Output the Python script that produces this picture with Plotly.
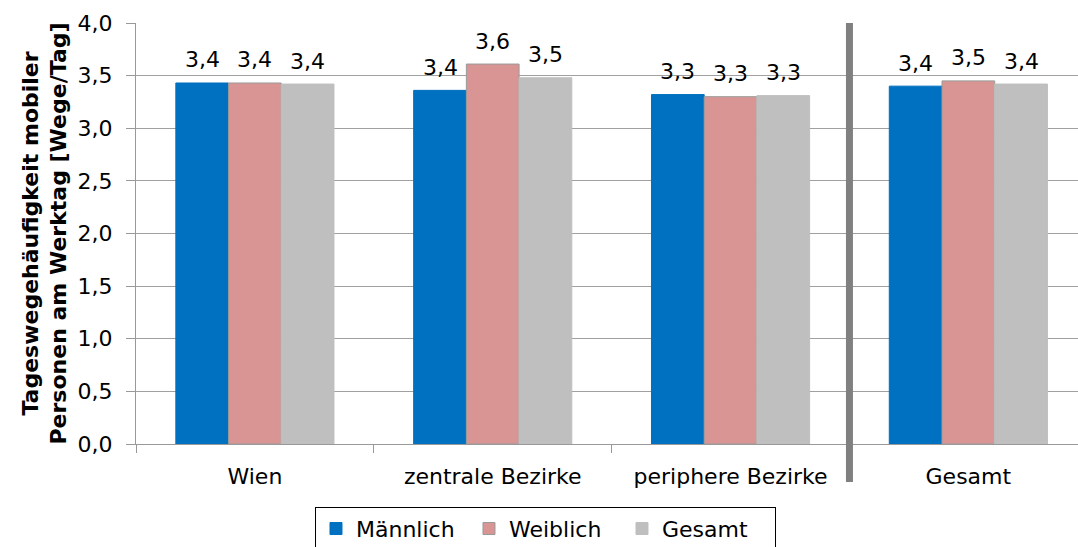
import plotly.graph_objects as go

categories = ["Wien", "zentrale Bezirke", "periphere Bezirke", "Gesamt"]
maennlich = [3.43, 3.36, 3.32, 3.40]
weiblich = [3.43, 3.61, 3.30, 3.45]
gesamt = [3.42, 3.48, 3.31, 3.42]
series_names = ["Männlich", "Weiblich", "Gesamt"]
series_values = [maennlich, weiblich, gesamt]
colors = ["#0070C0", "#D99594", "#BFBFBF"]
outline = ["#0070C0", "#9A9A9A", "#BFBFBF"]
y_ticks = [0, 0.5, 1.0, 1.5, 2.0, 2.5, 3.0, 3.5, 4.0]
y_ticklabels = [f"{v:.1f}".replace(".", ",") for v in y_ticks]

FONT = "DejaVu Sans, Liberation Sans, Arial, sans-serif"
FS = 22
W, H = 1078, 547
ML, MR, MT, MB = 136, 0, 23, 103
XR = [-0.5, 3.461]
BARGAP = 0.335

fig = go.Figure()
for name, vals, col, oc in zip(series_names, series_values, colors, outline):
    fig.add_trace(go.Bar(
        name=name, x=categories, y=vals,
        marker=dict(color=col, line=dict(color=oc, width=1)),
    ))

# value labels above each bar
px_per_cat = (W - ML - MR) / (XR[1] - XR[0])
bar_px = px_per_cat * (1 - BARGAP) / len(series_values)
annotations = []
for i, vals in enumerate(series_values):
    off = (i - (len(series_values) - 1) / 2) * bar_px
    for c, v in zip(categories, vals):
        annotations.append(dict(
            x=c, y=v, xref="x", yref="y", text=f"{v:.1f}".replace(".", ","),
            showarrow=False, xshift=off, yshift=23, yanchor="middle",
            font=dict(family=FONT, size=FS, color="black"),
        ))

fig.update_layout(
    width=W, height=H,
    margin=dict(l=ML, r=MR, t=MT, b=MB, autoexpand=False),
    paper_bgcolor="white", plot_bgcolor="white",
    barmode="group", bargap=BARGAP, bargroupgap=0,
    font=dict(family=FONT, size=FS, color="black"),
    showlegend=True,
    legend=dict(
        orientation="h", x=0.4347, xanchor="center", y=-0.149, yanchor="top",
        bordercolor="black", borderwidth=1, font=dict(size=FS),
        entrywidth=108, entrywidthmode="pixels",
    ),
    annotations=annotations,
    xaxis=dict(
        type="category", range=XR, showgrid=False,
        showline=True, linecolor="#999999", linewidth=1,
        ticks="outside", tickson="boundaries", ticklen=8, tickcolor="#999999",
        tickfont=dict(size=FS), ticklabelstandoff=13,
    ),
    yaxis=dict(
        range=[0, 4.0], tickvals=y_ticks, ticktext=y_ticklabels,
        showgrid=True, gridcolor="#A0A0A0", gridwidth=1,
        showline=True, linecolor="#999999", linewidth=1,
        ticks="outside", ticklen=9, tickcolor="#999999",
        tickfont=dict(size=FS), ticklabelstandoff=9,
        zeroline=False,
        title=dict(text="<b>Tageswegehäufigkeit mobiler<br>Personen am Werktag [Wege/Tag]</b>",
                   font=dict(size=22), standoff=4),
    ),
    shapes=[
        dict(type="line", xref="x", yref="paper", x0=2.5, x1=2.5, y0=-0.09, y1=1,
             line=dict(color="#808080", width=7)),
    ],
)

fig.write_html("out.html", include_plotlyjs=True, config={"displayModeBar": False},
               post_script="document.body.style.margin='0';")
